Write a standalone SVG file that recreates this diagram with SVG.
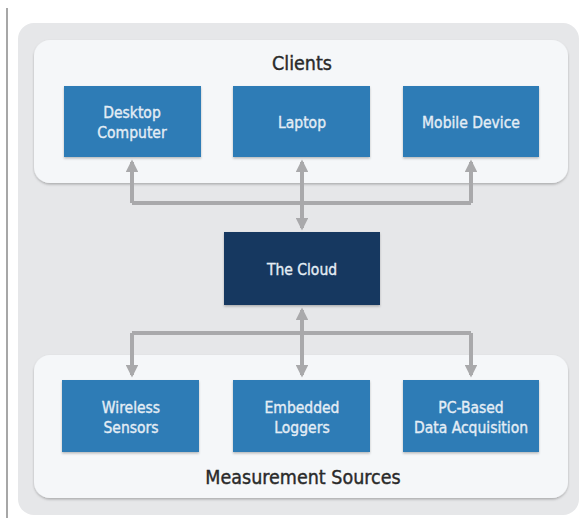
<svg xmlns="http://www.w3.org/2000/svg" width="581" height="518" viewBox="0 0 581 518">
<defs>
<style>
.node rect{fill:#2f7cb6;}
.node text{fill:#e4edf5;stroke:#e4edf5;stroke-width:0.35;font-family:"DejaVu Sans Condensed","Liberation Sans",sans-serif;font-size:15.5px;text-anchor:middle;}
.title{fill:#2a2a2a;stroke:#2a2a2a;stroke-width:0.4;font-family:"DejaVu Sans Condensed","Liberation Sans",sans-serif;font-size:19.5px;text-anchor:middle;}
.conn{fill:none;stroke:#a9a9ab;stroke-width:4;}
</style>
<marker id="ah" viewBox="0 0 10 10" refX="8" refY="5" markerWidth="3.2" markerHeight="3.2" orient="auto">
<path d="M0,0 L10,5 L0,10 z" fill="#a9a9ab"/>
</marker>
<filter id="sh" x="-10%" y="-10%" width="120%" height="130%">
<feDropShadow dx="0" dy="1.5" stdDeviation="1.2" flood-color="#000" flood-opacity="0.25"/>
</filter>
</defs>
<rect width="581" height="518" fill="#ffffff"/>
<line x1="7" y1="8" x2="7" y2="518" stroke="#8a8a8a" stroke-width="1.5"/>
<rect x="18" y="23" width="561" height="492" rx="16" fill="#e6e7e9"/>
<g id="clients">
<rect x="34" y="40" width="534" height="143" rx="16" fill="#f5f7f9" filter="url(#sh)"/>
<text class="title" x="302" y="70">Clients</text>
</g>
<g id="sources">
<rect x="34" y="355" width="534" height="143" rx="16" fill="#f5f7f9" filter="url(#sh)"/>
<text class="title" x="303" y="484">Measurement Sources</text>
</g>
<g id="connectors">
<polyline class="conn" points="132,203 471,203"/>
<line class="conn" x1="132" y1="203" x2="132" y2="162" marker-end="url(#ah)"/>
<line class="conn" x1="302" y1="203" x2="302" y2="162" marker-end="url(#ah)"/>
<line class="conn" x1="471" y1="203" x2="471" y2="162" marker-end="url(#ah)"/>
<line class="conn" x1="302" y1="203" x2="302" y2="228" marker-end="url(#ah)"/>
<polyline class="conn" points="132,333 471,333"/>
<line class="conn" x1="302" y1="333" x2="302" y2="310" marker-end="url(#ah)"/>
<line class="conn" x1="132" y1="333" x2="132" y2="375" marker-end="url(#ah)"/>
<line class="conn" x1="302" y1="333" x2="302" y2="375" marker-end="url(#ah)"/>
<line class="conn" x1="471" y1="333" x2="471" y2="375" marker-end="url(#ah)"/>
</g>
<g id="desktop" class="node"><rect x="64" y="86" width="137" height="71" filter="url(#sh)"/><text x="132" y="118">Desktop</text><text x="132" y="138">Computer</text></g>
<g id="laptop" class="node"><rect x="233" y="86" width="137" height="71" filter="url(#sh)"/><text x="302" y="128">Laptop</text></g>
<g id="mobile" class="node"><rect x="403" y="86" width="136" height="71" filter="url(#sh)"/><text x="471" y="128">Mobile Device</text></g>
<g id="cloud" class="node"><rect x="224" y="232" width="156" height="73" style="fill:#173760" filter="url(#sh)"/><text x="302" y="275">The Cloud</text></g>
<g id="wireless" class="node"><rect x="62" y="380" width="137" height="72" filter="url(#sh)"/><text x="131" y="413">Wireless</text><text x="131" y="433">Sensors</text></g>
<g id="embedded" class="node"><rect x="233" y="380" width="137" height="72" filter="url(#sh)"/><text x="302" y="413">Embedded</text><text x="302" y="433">Loggers</text></g>
<g id="pcbased" class="node"><rect x="403" y="380" width="136" height="72" filter="url(#sh)"/><text x="471" y="413">PC-Based</text><text x="471" y="433">Data Acquisition</text></g>
</svg>
